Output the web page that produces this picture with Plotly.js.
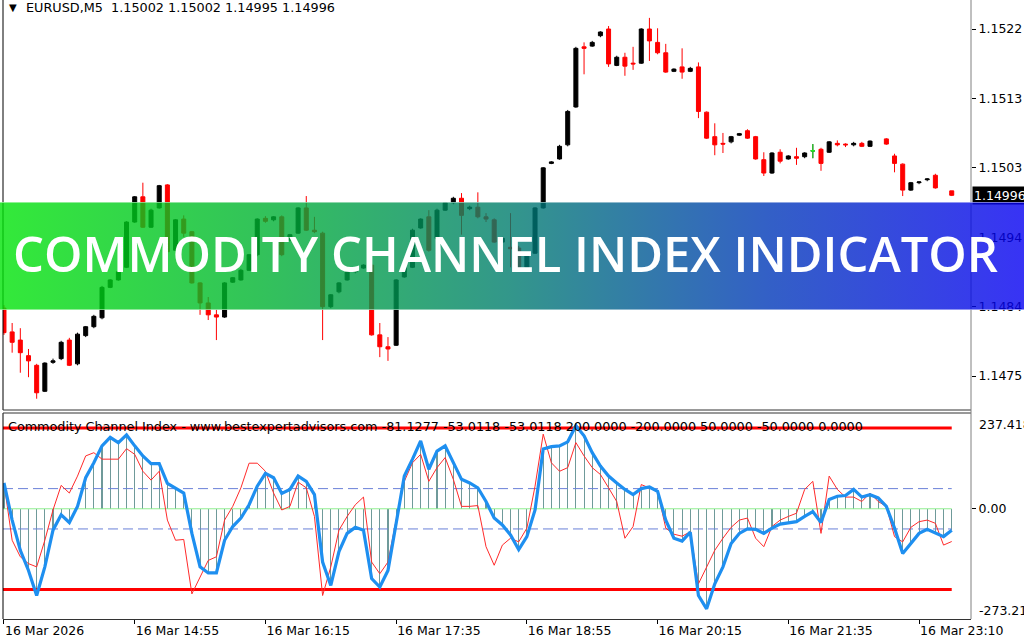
<!DOCTYPE html>
<html><head><meta charset="utf-8">
<script src="https://cdn.plot.ly/plotly-3.0.1.min.js"></script>
<style>
html,body{margin:0;padding:0;background:#fff;}
#wrap{position:relative;width:1024px;height:640px;overflow:hidden;}
#chart{position:absolute;left:0;top:0;width:1024px;height:640px;}
#banner{position:absolute;left:0;top:0;pointer-events:none;}
</style></head><body>
<div id="wrap"><div id="chart"></div>
<svg id="banner" width="1024" height="640" xmlns="http://www.w3.org/2000/svg">
<defs><linearGradient id="bg" x1="0" y1="0" x2="1" y2="0">
<stop offset="0" stop-color="rgb(0,228,8)"/>
<stop offset="0.25" stop-color="rgb(0,180,48)"/>
<stop offset="0.5" stop-color="rgb(0,124,110)"/>
<stop offset="0.75" stop-color="rgb(0,56,184)"/>
<stop offset="1" stop-color="rgb(6,0,242)"/>
</linearGradient></defs>
<rect x="0" y="202" width="1024" height="108" fill="url(#bg)" fill-opacity="0.8"/>
<line x1="0" y1="202.5" x2="1024" y2="202.5" stroke="rgba(255,255,255,0.45)" stroke-width="1"/>
<line x1="0" y1="309.5" x2="1024" y2="309.5" stroke="rgba(255,255,255,0.45)" stroke-width="1"/>
<text x="13" y="272" textLength="985" lengthAdjust="spacingAndGlyphs" font-family="Open Sans" font-weight="600" font-size="48" fill="#ffffff">COMMODITY CHANNEL INDEX INDICATOR</text>
</svg></div>
<script>
const symbol = "EURUSD,M5";
const lastBar = [1.15002, 1.15002, 1.14995, 1.14996];
const timeLabels = ["16 Mar 2026","16 Mar 14:55","16 Mar 16:15","16 Mar 17:35","16 Mar 18:55","16 Mar 20:15","16 Mar 21:35","16 Mar 23:10"];
const barsPerLabel = 16;
const priceTicks = [1.15220, 1.151265, 1.15033, 1.149395, 1.14846, 1.147525];
const priceTickText = ["1.1522","1.1513","1.1503","1.1494","1.1484","1.1475"];
const cciTitle = "Commodity Channel Index - www.bestexpertadvisors.com -81.1277 -53.0118 -53.0118 200.0000 -200.0000 50.0000 -50.0000 0.0000";
const cciMax = 237.418, cciMin = -273.21;
const levelsOuter = [200, -200];
const levelsInner = [50, -50];
const levelZero = [0];

const opens = [1.14844,1.14812,1.14801,1.14780,1.14767,1.14732,1.14771,1.14776,1.14801,1.14769,
1.14807,1.14819,1.14831,1.14872,1.14882,1.14899,1.14960,1.14994,1.14953,1.14979,
1.15010,1.14922,1.14964,1.14947,1.14878,1.14851,1.14835,1.14832,1.14879,1.14882,
1.14895,1.14916,1.14965,1.14963,1.14967,1.14936,1.14945,1.14979,1.14949,1.14945,
1.14846,1.14866,1.14882,1.14893,1.14898,1.14902,1.14808,1.14792,1.14794,1.14886,
1.14899,1.14952,1.14967,1.14938,1.14976,1.14986,1.14992,1.14978,1.14980,1.14967,
1.14963,1.14933,1.14926,1.14925,1.14899,1.14918,1.14979,1.15039,1.15045,1.15064,
1.15115,1.15196,1.15197,1.15211,1.15220,1.15171,1.15182,1.15174,1.15174,1.15220,
1.15202,1.15188,1.15163,1.15169,1.15163,1.15169,1.15108,1.15075,1.15066,1.15068,
1.15077,1.15083,1.15075,1.15044,1.15026,1.15054,1.15045,1.15048,1.15048,1.15056,
1.15058,1.15054,1.15066,1.15065,1.15064,1.15066,1.15062,null,1.15072,1.15049,
1.15038,1.15003,1.15013,1.15017,1.15023,null,1.15002];
const highs = [1.14848,1.14824,1.14817,1.14789,1.14769,1.14771,1.14776,1.14800,1.14804,1.14811,
1.14820,1.14835,1.14874,1.14883,1.14894,1.14961,1.14995,1.15013,1.14978,1.15010,
1.15011,1.14964,1.14969,1.14948,1.14879,1.14859,1.14842,1.14879,1.14886,1.14897,
1.14917,1.14965,1.14968,1.14968,1.14969,1.14944,1.14980,1.14995,1.14967,1.14947,
1.14863,1.14879,1.14894,1.14899,1.14903,1.14905,1.14824,1.14805,1.14883,1.14901,
1.14951,1.14965,1.14976,1.14978,1.14987,1.14994,1.14999,1.14982,1.15000,1.14972,
1.14965,1.14940,1.14972,1.14928,1.14920,1.14980,1.15034,1.15042,1.15064,1.15111,
1.15196,1.15202,1.15204,1.15217,1.15224,1.15184,1.15188,1.15196,1.15221,1.15235,
1.15221,1.15200,1.15167,1.15194,1.15169,1.15175,1.15109,1.15093,1.15080,1.15076,
1.15080,1.15085,1.15076,1.15054,1.15054,1.15058,1.15050,1.15060,1.15054,1.15065,
1.15060,1.15069,1.15070,1.15066,1.15068,1.15068,1.15070,null,1.15073,1.15052,
1.15039,1.15014,1.15015,1.15019,1.15025,null,1.15002];
const lows = [1.14808,1.14784,1.14757,1.14751,1.14722,1.14731,1.14769,1.14774,1.14766,1.14767,
1.14805,1.14817,1.14829,1.14871,1.14881,1.14898,1.14959,1.14952,1.14952,1.14978,
1.14918,1.14921,1.14940,1.14877,1.14835,1.14828,1.14801,1.14831,1.14878,1.14881,
1.14894,1.14914,1.14959,1.14961,1.14914,1.14934,1.14944,1.14948,1.14945,1.14801,
1.14844,1.14864,1.14881,1.14891,1.14897,1.14807,1.14778,1.14773,1.14793,1.14885,
1.14898,1.14951,1.14920,1.14937,1.14975,1.14984,1.14943,1.14976,1.14965,1.14960,
1.14932,1.14932,1.14899,1.14898,1.14898,1.14917,1.14978,1.15038,1.15044,1.15062,
1.15114,1.15159,1.15196,1.15209,1.15169,1.15170,1.15157,1.15165,1.15173,1.15177,
1.15186,1.15161,1.15162,1.15153,1.15162,1.15100,1.15072,1.15050,1.15053,1.15066,
1.15076,1.15072,1.15044,1.15022,1.15025,1.15039,1.15044,1.15037,1.15046,1.15046,
1.15029,1.15053,1.15062,1.15061,1.15062,1.15061,1.15061,null,1.15064,1.15027,
1.14995,1.15002,1.15011,1.15015,1.15005,null,1.14995];
const closes = [1.14811,1.14798,1.14784,1.14773,1.14730,1.14770,1.14773,1.14798,1.14767,1.14809,
1.14819,1.14833,1.14872,1.14882,1.14893,1.14960,1.14994,1.14953,1.14976,1.15009,
1.14920,1.14963,1.14945,1.14878,1.14851,1.14835,1.14832,1.14878,1.14885,1.14895,
1.14916,1.14964,1.14961,1.14967,1.14916,1.14943,1.14979,1.14949,1.14947,1.14846,
1.14862,1.14878,1.14893,1.14898,1.14902,1.14808,1.14792,1.14789,1.14882,1.14899,
1.14949,1.14964,1.14922,1.14976,1.14986,1.14992,1.14969,1.14980,1.14967,1.14964,
1.14933,1.14938,1.14924,1.14899,1.14918,1.14979,1.15033,1.15041,1.15062,1.15109,
1.15194,1.15194,1.15202,1.15216,1.15173,1.15182,1.15170,1.15173,1.15220,1.15204,
1.15188,1.15162,1.15166,1.15162,1.15167,1.15109,1.15073,1.15064,1.15065,1.15075,
1.15079,1.15073,1.15045,1.15026,1.15053,1.15042,1.15049,1.15046,1.15053,1.15056,
1.15039,1.15068,1.15064,1.15064,1.15066,1.15062,1.15069,null,1.15065,1.15039,
1.15003,1.15013,1.15014,1.15018,1.15006,null,1.14996];

const cciMain = [64,-28,-103,-153,-215,-144,-53,-15,-34,6,
77,114,156,177,164,183,156,131,112,112,
63,52,39,-61,-144,-159,-159,-78,-44,-23,
10,56,88,77,38,48,81,68,35,-132,
-190,-106,-61,-46,-53,-173,-194,-153,-36,81,
123,168,98,143,156,114,73,64,52,18,
-23,-40,-65,-101,-69,-3,148,154,156,166,
206,181,139,106,81,64,48,35,50,54,
43,-28,-73,-80,-58,-215,-248,-186,-144,-86,
-61,-50,-51,-61,-48,-38,-36,-32,-19,-7,
-34,23,31,33,48,29,35,27,6,-48,
-111,-86,-61,-51,-59,-69,-53.0118];
const cciFast = [64,-78,-119,-136,-144,-78,-3,58,39,81,
131,139,123,123,123,149,135,93,71,93,
-28,-78,-76,-211,-169,-128,-119,-28,6,52,
113,113,93,39,-3,6,66,52,-19,-215,
-144,-53,-19,10,29,-132,-161,-132,-28,68,
114,135,68,102,127,73,6,6,8,-94,
-140,-90,-73,-82,-48,56,185,114,93,102,
164,131,102,85,52,18,-73,-44,60,52,
43,-48,-63,-68,-57,-186,-144,-103,-73,-46,
-28,-23,-73,-94,-44,-28,-19,-11,48,68,
-61,81,48,29,29,18,39,18,6,-69,
-82,-46,-32,-28,-36,-90,-81.1277];

const N = opens.length;
const idx = opens.map((_, i) => i);
const xr = [-0.12, 118.36];
const lastIdx = N - 1;

// doji bars (open == close) drawn in lime, as MT4 does
const dojiO = opens.map((o, i) => (o !== null && o === closes[i]) ? o : null);
const dojiH = highs.map((h, i) => dojiO[i] === null ? null : h);
const dojiL = lows.map((l, i) => dojiO[i] === null ? null : l);
const dojiC = closes.map((c, i) => dojiO[i] === null ? null : c);

const traces = [];
traces.push({type:'candlestick', x:idx, open:opens, high:highs, low:lows, close:closes,
  xaxis:'x', yaxis:'y', hoverinfo:'skip', whiskerwidth:0,
  increasing:{line:{color:'#000000', width:1}, fillcolor:'#000000'},
  decreasing:{line:{color:'#ff0000', width:1}, fillcolor:'#ff0000'}});
traces.push({type:'candlestick', x:idx, open:dojiO, high:dojiH, low:dojiL, close:dojiC,
  xaxis:'x', yaxis:'y', hoverinfo:'skip', whiskerwidth:0,
  increasing:{line:{color:'#22ee22', width:1}, fillcolor:'#22ee22'},
  decreasing:{line:{color:'#22ee22', width:1}, fillcolor:'#22ee22'}});

// CCI histogram
traces.push({type:'bar', x:idx, y:cciMain, xaxis:'x', yaxis:'y2', width:0.13,
  marker:{color:'#6f9a9a', line:{width:0}}, hoverinfo:'skip'});
// levels
levelZero.forEach(v => traces.push({type:'scatter', mode:'lines', x:[xr[0], lastIdx], y:[v, v], xaxis:'x', yaxis:'y2',
  line:{color:'#90ee90', width:1}, hoverinfo:'skip'}));
levelsInner.forEach(v => traces.push({type:'scatter', mode:'lines', x:[xr[0], lastIdx], y:[v, v], xaxis:'x', yaxis:'y2',
  line:{color:'#6a80d8', width:1, dash:'10px,5px'}, hoverinfo:'skip'}));
levelsOuter.forEach(v => traces.push({type:'scatter', mode:'lines', x:[xr[0], lastIdx], y:[v, v], xaxis:'x', yaxis:'y2',
  line:{color:'#ff0000', width:3}, hoverinfo:'skip'}));
traces.push({type:'scatter', mode:'lines', x:idx, y:cciFast, xaxis:'x', yaxis:'y2',
  line:{color:'#ff2a2a', width:1}, hoverinfo:'skip'});
traces.push({type:'scatter', mode:'lines', x:idx, y:cciMain, xaxis:'x', yaxis:'y2',
  line:{color:'#1e8ff0', width:3.2}, hoverinfo:'skip'});

const plotH = 619, plotW = 968, left = 3;
const px = x => (x - left) / plotW;
const py = y => (plotH - y) / plotH;
const mainBottom = py(410), cciTop = py(413);

const F = 'DejaVu Sans';
const layout = {
  width:1024, height:640,
  margin:{l:3, r:53, t:0, b:21, pad:0},
  paper_bgcolor:'#ffffff', plot_bgcolor:'#ffffff',
  showlegend:false, bargap:0,
  font:{family:F, size:12.5, color:'#000'},
  xaxis:{range:xr, anchor:'y2', domain:[0,1], showgrid:false, zeroline:false,
    tickvals: timeLabels.map((_, k) => k * barsPerLabel), ticktext: timeLabels,
    ticks:'outside', ticklen:4, tickcolor:'#000', showline:true, linecolor:'#333', linewidth:1,
    ticklabelposition:'outside right', rangeslider:{visible:false}, fixedrange:true,
    tickfont:{family:F, size:12.5, color:'#000'}},
  yaxis:{domain:[mainBottom, 1], range:[1.147068, 1.152591], side:'right',
    tickvals:priceTicks, ticktext:priceTickText, ticks:'outside', ticklen:4, tickcolor:'#000',
    showgrid:false, zeroline:false, showline:false, fixedrange:true,
    tickfont:{family:F, size:12.5, color:'#000'}},
  yaxis2:{domain:[0, cciTop], range:[cciMin, cciMax], side:'right', anchor:'x',
    tickvals:[0], ticktext:['0.00'], ticks:'outside', ticklen:4, tickcolor:'#000',
    showgrid:false, zeroline:false, showline:false, fixedrange:true,
    tickfont:{family:F, size:12.5, color:'#000'}},
  shapes:[
    {type:'line', xref:'paper', yref:'paper', x0:0, x1:0, y0:mainBottom, y1:1, line:{color:'#000', width:1}},
    {type:'line', xref:'paper', yref:'paper', x0:0, x1:0, y0:0, y1:cciTop, line:{color:'#000', width:1}},
    {type:'line', xref:'paper', yref:'paper', x0:0, x1:1, y0:mainBottom, y1:mainBottom, line:{color:'#333', width:1}},
    {type:'line', xref:'paper', yref:'paper', x0:0, x1:1, y0:cciTop, y1:cciTop, line:{color:'#333', width:1}},
    {type:'line', xref:'paper', yref:'paper', x0:1, x1:1, y0:0, y1:1, line:{color:'#808080', width:1}}
  ],
  annotations:[
    {xref:'paper', yref:'paper', x:px(7), y:py(8), xanchor:'left', yanchor:'middle', showarrow:false,
      text:'\u25BC', font:{family:F, size:10, color:'#000'}},
    {xref:'paper', yref:'paper', x:px(24), y:py(8), xanchor:'left', yanchor:'middle', showarrow:false,
      text: symbol + '\u00a0\u00a0' + lastBar.map(v => v.toFixed(5)).join(' '), font:{family:F, size:12.8, color:'#000'}},
    {xref:'paper', yref:'paper', x:px(6), y:py(427), xanchor:'left', yanchor:'middle', showarrow:false,
      text: cciTitle, font:{family:F, size:12.75, color:'#000'}},
    {xref:'paper', yref:'paper', x:px(977), y:py(424), xanchor:'left', yanchor:'middle', showarrow:false,
      text: String(cciMax), font:{family:F, size:12.5, color:'#000'}},
    {xref:'paper', yref:'paper', x:px(977), y:py(610), xanchor:'left', yanchor:'middle', showarrow:false,
      text: String(cciMin), font:{family:F, size:12.5, color:'#000'}},
    {xref:'paper', yref:'y', x:px(972), y:lastBar[3], xanchor:'left', yanchor:'middle', showarrow:false,
      text: lastBar[3].toFixed(5), bgcolor:'#000', borderpad:1, font:{family:F, size:12.5, color:'#fff'}}
  ]
};
Plotly.newPlot('chart', traces, layout, {staticPlot:true, displayModeBar:false});
</script>
</body></html>
